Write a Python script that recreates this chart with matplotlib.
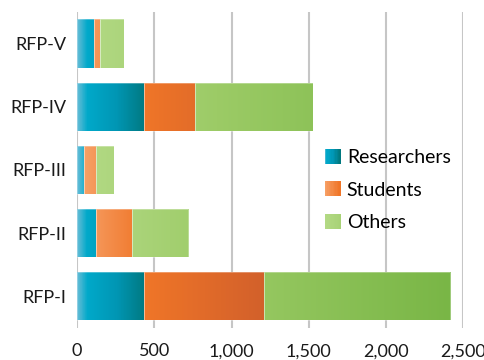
import numpy as np
import matplotlib
matplotlib.use("Agg")
import matplotlib.pyplot as plt
from matplotlib.colors import LinearSegmentedColormap, Normalize
from matplotlib.patches import Rectangle
from matplotlib.legend_handler import HandlerBase

# data
rounds = ['RFP-I', 'RFP-II', 'RFP-III', 'RFP-IV', 'RFP-V']
researchers = [434, 123, 47, 435, 112]
students = [778, 235, 76, 330, 38]
others = [1205, 363, 115, 760, 153]
series_names = ['Researchers', 'Students', 'Others']
xticks = [0, 500, 1000, 1500, 2000, 2500]
xlabels = ['0', '500', '1,000', '1,500', '2,000', '2,500']

# gradient stops along x (absolute value, colour)
XMAX = 2500
grad_stops = {
    'Researchers': [(0, '#62bcd6'), (60, '#00a9ca'), (250, '#0096b4'), (440, '#00787f'), (2500, '#00787f')],
    'Students': [(0, '#f8a86e'), (110, '#f5975a'), (420, '#f07628'), (1220, '#d2602b'), (2500, '#d2602b')],
    'Others': [(0, '#b4da86'), (300, '#acd57c'), (900, '#9ccb66'), (2420, '#79b646'), (2500, '#79b646')],
}
cmaps = {k: LinearSegmentedColormap.from_list(k, [(p / XMAX, c) for p, c in v])
         for k, v in grad_stops.items()}
norm = Normalize(0, XMAX)

plt.rcParams['font.family'] = ['Lato', 'DejaVu Sans']

fig = plt.figure(figsize=(4.85, 3.6), dpi=100)
ax = fig.add_axes([0.159, 0.089, 0.796, 0.878])

y = np.arange(len(rounds))
h = 0.76
left = np.zeros(len(rounds))
for name, vals in zip(series_names, [researchers, students, others]):
    bars = ax.barh(y, vals, left=left, height=h, color='none', edgecolor='none', zorder=3)
    for b in bars:
        x0, w = b.get_x(), b.get_width()
        grad = np.linspace(x0, x0 + w, 128).reshape(1, -1)
        im = ax.imshow(grad, cmap=cmaps[name], norm=norm, aspect='auto',
                       extent=[x0, x0 + w, b.get_y(), b.get_y() + h], zorder=3,
                       interpolation='bilinear')
        im.set_clip_path(b)
        ax.add_patch(Rectangle((x0, b.get_y()), w, h, fill=False,
                               edgecolor=(1, 1, 1, 0.35), lw=0.6, zorder=4))
    left = left + np.array(vals)

ax.set_xlim(0, 2500)
ax.set_ylim(-0.5, 4.5)
ax.set_xticks(xticks)
ax.set_xticklabels(xlabels)
ax.set_yticks(y)
ax.set_yticklabels(rounds)
ax.tick_params(length=0, labelsize=13, colors='#1a1a1a')
ax.tick_params(axis='y', pad=8)
ax.tick_params(axis='x', pad=11)
for s in ax.spines.values():
    s.set_visible(False)
ax.grid(axis='x', color='#c6c6c6', lw=1.5, zorder=1)
ax.set_axisbelow(True)


class GradHandler(HandlerBase):
    def create_artists(self, legend, orig_handle, xd, yd, width, height, fontsize, trans):
        cm = cmaps[orig_handle.get_label()]
        n = 12
        arts = []
        for i in range(n):
            c = cm(0.02 + 0.16 * i / (n - 1)) if orig_handle.get_label() != 'Researchers' else cm(0.01 + 0.17 * i / (n - 1))
            r = Rectangle((xd + width * i / n - 0.3, -yd), width / n + 0.6, height,
                          facecolor=c, edgecolor='none', transform=trans)
            arts.append(r)
        return arts


handles = [Rectangle((0, 0), 1, 1, label=n) for n in series_names]
ax.legend(handles=handles, labels=series_names, handler_map={Rectangle: GradHandler()},
          loc='center left', bbox_to_anchor=(325 / 485, 1 - 190 / 360),
          bbox_transform=fig.transFigure, frameon=False, borderpad=0, borderaxespad=0,
          fontsize=14, handlelength=0.82, handleheight=0.82, handletextpad=0.3,
          labelspacing=0.78)

fig.savefig('out.png', dpi=100)
